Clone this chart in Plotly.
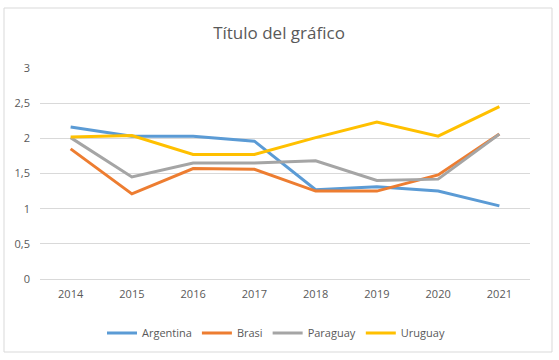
import plotly.graph_objects as go

years = ["2014", "2015", "2016", "2017", "2018", "2019", "2020", "2021"]
argentina = [2.16, 2.03, 2.03, 1.96, 1.27, 1.31, 1.25, 1.04]
brasil = [1.85, 1.21, 1.57, 1.56, 1.25, 1.25, 1.48, 2.06]
paraguay = [2.01, 1.45, 1.65, 1.65, 1.68, 1.40, 1.42, 2.06]
uruguay = [2.02, 2.04, 1.77, 1.77, 2.01, 2.23, 2.03, 2.45]
series_names = ["Argentina", "Brasi", "Paraguay", "Uruguay"]
colors = ["#5B9BD5", "#ED7D31", "#A5A5A5", "#FFC000"]
title_text = "Título del gráfico"

fig = go.Figure()
for name, vals, col in zip(series_names, [argentina, brasil, paraguay, uruguay], colors):
    fig.add_trace(go.Scatter(x=years, y=vals, mode="lines", name=name,
                             line=dict(color=col, width=3)))

W, H = 559, 360
ml, mr, mt, mb = 40, 29, 68, 81
pw, ph = W - ml - mr, H - mt - mb

def px2paper_x(p):
    return (p - ml) / pw

def px2paper_y(p):
    return (H - mb - p) / ph

fig.add_shape(type="rect", xref="paper", yref="paper",
              x0=px2paper_x(4), x1=px2paper_x(552),
              y0=px2paper_y(352), y1=px2paper_y(8),
              line=dict(color="#D9D9D9", width=1), layer="below")

fig.update_layout(
    width=W, height=H,
    margin=dict(l=ml, r=mr, t=mt, b=mb, autoexpand=False),
    paper_bgcolor="white", plot_bgcolor="white",
    separators=",.",
    font=dict(family="Open Sans, Carlito, sans-serif", color="#595959", size=11),
    title=dict(text=title_text, x=279 / W, xref="container", xanchor="center",
               y=1 - 33 / H, yref="container", yanchor="middle",
               font=dict(size=17, color="#595959")),
    xaxis=dict(type="category", range=[-0.5, 7.5], showgrid=False,
               showline=True, linecolor="#D9D9D9", ticks="",
               tickfont=dict(size=11, color="#595959"), ticklabelstandoff=5),
    yaxis=dict(range=[0, 3], dtick=0.5, showgrid=True, gridcolor="#D9D9D9",
               zeroline=False, showline=False, ticks="",
               tickfont=dict(size=11, color="#595959"), ticklabelstandoff=9),
    legend=dict(orientation="h", x=px2paper_x(276), xanchor="center",
                y=px2paper_y(333), yanchor="middle",
                font=dict(size=11, color="#595959"), itemwidth=30),
    showlegend=True,
)

fig.write_html("out.html", config={"displayModeBar": False},
               post_script="document.body.style.margin='0';document.body.style.overflow='hidden';")
